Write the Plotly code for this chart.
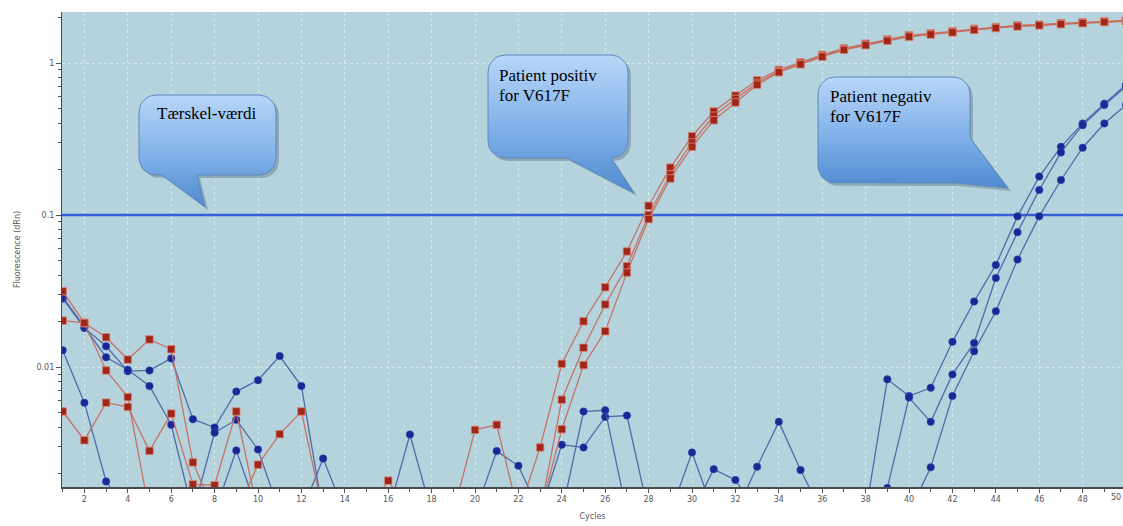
import math
import plotly.graph_objects as go

# ---------------- data ----------------
cycles = list(range(1, 51))

# Patient positive for V617F (red squares), three replicates
pos_rep1 = [0.0315, 0.0195, 0.0157, 0.0112, 0.0152, 0.0131, 0.00236, 0.0011, 0.0011, 0.0011,
            0.0011, 0.0011, 0.0011, 0.0011, 0.0011, 0.0011, 0.0011, 0.0011, 0.0011, 0.00386,
            0.00417, 0.0011, 0.00296, 0.0105, 0.0200, 0.0335, 0.0576, 0.115, 0.205, 0.33,
            0.48, 0.61, 0.77, 0.90, 1.01, 1.13, 1.25, 1.34, 1.43, 1.52,
            1.57, 1.62, 1.68, 1.72, 1.77, 1.79, 1.83, 1.85, 1.88, 1.91]
pos_rep2 = [0.0202, 0.0195, 0.0095, 0.00635, 0.0011, 0.0011, 0.0011, 0.0011, 0.0011, 0.00228,
            0.00362, 0.0051, 0.0011, 0.0011, 0.0011, 0.00179, 0.0011, 0.0011, 0.0011, 0.0011,
            0.0011, 0.0011, 0.0011, 0.0061, 0.0134, 0.0258, 0.046, 0.100, 0.185, 0.30,
            0.45, 0.58, 0.74, 0.88, 0.99, 1.11, 1.23, 1.32, 1.41, 1.49,
            1.55, 1.60, 1.66, 1.70, 1.75, 1.77, 1.81, 1.83, 1.86, 1.89]
pos_rep3 = [0.0051, 0.0033, 0.00583, 0.00547, 0.00281, 0.00494, 0.00169, 0.00167, 0.0051, 0.0011,
            0.0011, 0.0011, 0.0011, 0.0011, 0.0011, 0.0011, 0.0011, 0.0011, 0.0011, 0.0011,
            0.0011, 0.0011, 0.0011, 0.0039, 0.0103, 0.0172, 0.0418, 0.094, 0.174, 0.281,
            0.42, 0.55, 0.72, 0.87, 0.98, 1.10, 1.22, 1.31, 1.40, 1.49,
            1.54, 1.59, 1.65, 1.70, 1.74, 1.77, 1.80, 1.83, 1.86, 1.88]

# Patient negative for V617F (blue circles), three replicates
neg_rep1 = [0.0282, 0.0181, 0.0137, 0.0094, 0.0095, 0.0114, 0.00454, 0.0040, 0.0069, 0.0082,
            0.0118, 0.0075, 0.0011, 0.0011, 0.0011, 0.0011, 0.0036, 0.0011, 0.0011, 0.0011,
            0.0028, 0.00224, 0.0011, 0.00308, 0.00296, 0.0047, 0.0048, 0.0011, 0.0011, 0.00274,
            0.0011, 0.0011, 0.00221, 0.00436, 0.0021, 0.0011, 0.0011, 0.0011, 0.0083, 0.00645,
            0.0073, 0.01465, 0.027, 0.047, 0.098, 0.179, 0.281, 0.40, 0.54, 0.72]
neg_rep2 = [0.0129, 0.00583, 0.00177, 0.0011, 0.0011, 0.0011, 0.0011, 0.0011, 0.00283, 0.0011,
            0.0011, 0.0011, 0.0025, 0.0011, 0.0011, 0.0011, 0.0011, 0.0011, 0.0011, 0.0011,
            0.0011, 0.0011, 0.0011, 0.0011, 0.0011, 0.0011, 0.0011, 0.0011, 0.0011, 0.0011,
            0.00213, 0.00181, 0.0011, 0.0011, 0.0011, 0.0011, 0.0011, 0.0011, 0.0016, 0.0063,
            0.00436, 0.00895, 0.0144, 0.0385, 0.077, 0.146, 0.258, 0.39, 0.53, 0.70]
neg_rep3 = [0.029, 0.0185, 0.0116, 0.0096, 0.0075, 0.00417, 0.0011, 0.0037, 0.0045, 0.00287,
            0.0011, 0.0011, 0.0011, 0.0011, 0.0011, 0.0011, 0.0011, 0.0011, 0.0011, 0.0011,
            0.0011, 0.0011, 0.0011, 0.0011, 0.0051, 0.0052, 0.0011, 0.0011, 0.0011, 0.0011,
            0.0011, 0.0011, 0.0011, 0.0011, 0.0011, 0.0011, 0.0011, 0.0011, 0.0011, 0.0011,
            0.00219, 0.00645, 0.0127, 0.0233, 0.051, 0.098, 0.17, 0.277, 0.40, 0.53]

threshold = 0.1

x_tick_vals = list(range(2, 50, 2))
y_tick_vals = [0.01, 0.1, 1]
y_tick_text = ["0.01", "0.1", "1"]

callout_threshold_text = "Tærskel-værdi"
callout_pos_lines = ["Patient positiv", "for V617F"]
callout_neg_lines = ["Patient negativ", "for V617F"]

# ---------------- geometry ----------------
W, H = 1123, 526
ML, MR, MT, MB = 62, 0, 12, 39
PW, PH = W - ML - MR, H - MT - MB
X_RANGE = [0.968, 49.86]
Y_RANGE_LOG = [-2.789, 0.3355]


def px2x(px):
    return X_RANGE[0] + (px - ML) / PW * (X_RANGE[1] - X_RANGE[0])


def py2y(py):
    return 10 ** (Y_RANGE_LOG[1] - (py - MT) / PH * (Y_RANGE_LOG[1] - Y_RANGE_LOG[0]))


def px2paper(px):
    return (px - ML) / PW


def py2paper(py):
    return (MT + PH - py) / PH


def arc(cx, cy, r, t0, t1, n=8):
    return [(cx + r * math.cos(t0 + (t1 - t0) * i / n), cy + r * math.sin(t0 + (t1 - t0) * i / n))
            for i in range(n + 1)]


def callout_bottom(x0, y0, x1, y1, r, base_l, base_r, tip):
    pts = []
    pts += arc(x0 + r, y0 + r, r, math.pi, 1.5 * math.pi)
    pts += arc(x1 - r, y0 + r, r, 1.5 * math.pi, 2 * math.pi)
    pts += arc(x1 - r, y1 - r, r, 0, 0.5 * math.pi)
    pts += [(base_r, y1), tip, (base_l, y1)]
    pts += arc(x0 + r, y1 - r, r, 0.5 * math.pi, math.pi)
    pts.append(pts[0])
    return pts


def callout_corner(x0, y0, x1, y1, r, side_y, tip, base_x):
    pts = []
    pts += arc(x0 + r, y0 + r, r, math.pi, 1.5 * math.pi)
    pts += arc(x1 - r, y0 + r, r, 1.5 * math.pi, 2 * math.pi)
    pts += [(x1, side_y), tip, (base_x, y1)]
    pts += arc(x0 + r, y1 - r, r, 0.5 * math.pi, math.pi)
    pts.append(pts[0])
    return pts


fig = go.Figure()

# threshold line
fig.add_trace(go.Scatter(x=[0, 52], y=[threshold, threshold], mode="lines",
                         line=dict(color="#3560d8", width=2.6), showlegend=False, hoverinfo="skip"))

red_line = dict(color="rgba(200,105,90,0.9)", width=1.3)
blue_line = dict(color="rgba(70,95,165,0.9)", width=1.3)
red_marker = dict(symbol="square", size=7.5, color="#a0261a", line=dict(color="#d98a7a", width=0.8))
blue_marker = dict(symbol="circle", size=7.5, color="#1a2896", line=dict(color="#3a4ab0", width=0.5))

for s in (neg_rep1, neg_rep2, neg_rep3):
    fig.add_trace(go.Scatter(x=cycles, y=s, mode="lines+markers", line=blue_line,
                             marker=blue_marker, showlegend=False))
for s in (pos_rep1, pos_rep2, pos_rep3):
    fig.add_trace(go.Scatter(x=cycles, y=s, mode="lines+markers", line=red_line,
                             marker=red_marker, showlegend=False))

# callouts
callouts = [
    callout_bottom(139, 95, 276, 175, 17, 162, 197, (205, 207)),
    callout_bottom(488, 55, 628, 158, 17, 567, 611, (634, 193)),
    callout_corner(818, 77, 970, 183, 17, 138, (1008, 188), 956),
]
for pts in callouts:
    sx = [px2x(p[0] + 3) for p in pts]
    sy = [py2y(p[1] + 3) for p in pts]
    fig.add_trace(go.Scatter(x=sx, y=sy, mode="lines", fill="toself", line=dict(width=0),
                             fillcolor="rgba(40,60,90,0.28)", showlegend=False, hoverinfo="skip"))
    cx = [px2x(p[0]) for p in pts]
    cy = [py2y(p[1]) for p in pts]
    fig.add_trace(go.Scatter(x=cx, y=cy, mode="lines", fill="toself",
                             line=dict(color="#5d88bd", width=1),
                             fillgradient=dict(type="vertical",
                                               colorscale=[[0, "#4f8ad0"], [0.45, "#7fb0e8"], [1, "#b8d6f8"]]),
                             showlegend=False, hoverinfo="skip"))

ann = []
tfont = dict(family="Liberation Serif, Times New Roman, serif", size=17, color="#000000")
ann.append(dict(x=px2paper(206), y=py2paper(114), xref="paper", yref="paper", text=callout_threshold_text,
                showarrow=False, xanchor="center", yanchor="middle", font=tfont))
for i, t in enumerate(callout_pos_lines):
    ann.append(dict(x=px2paper(497), y=py2paper(75 + 20 * i), xref="paper", yref="paper", text=t,
                    showarrow=False, xanchor="left", yanchor="middle", font=tfont))
for i, t in enumerate(callout_neg_lines):
    ann.append(dict(x=px2paper(828), y=py2paper(96 + 20 * i), xref="paper", yref="paper", text=t,
                    showarrow=False, xanchor="left", yanchor="middle", font=tfont))
# the "50" tick label at the right edge
ann.append(dict(x=px2paper(1116), y=py2paper(497), xref="paper", yref="paper", text="50",
                showarrow=False, xanchor="center", yanchor="middle",
                font=dict(family="DejaVu Sans", size=8, color="#555555")))

minor_y = [k * 10 ** e for e in (-3, -2, -1, 0) for k in range(2, 10)]

fig.update_layout(
    width=W, height=H,
    margin=dict(l=ML, r=MR, t=MT, b=MB),
    paper_bgcolor="white",
    plot_bgcolor="#b4d3dd",
    annotations=ann,
    xaxis=dict(range=X_RANGE, tickvals=x_tick_vals, ticks="outside", ticklen=4, tickcolor="#555",
               showline=True, linecolor="#4a4a4a", linewidth=1.5,
               showgrid=True, gridcolor="rgba(222,236,241,0.85)", griddash="dot", gridwidth=1,
               zeroline=False,
               tickfont=dict(family="DejaVu Sans", size=8, color="#555555"),
               minor=dict(dtick=1, ticks="outside", ticklen=3, tickcolor="#555", showgrid=False),
               title=dict(text="Cycles", standoff=10,
                          font=dict(family="DejaVu Sans", size=8, color="#555555"))),
    yaxis=dict(type="log", range=Y_RANGE_LOG, tickvals=y_tick_vals, ticktext=y_tick_text,
               ticks="outside", ticklen=5, tickcolor="#555",
               showline=True, linecolor="#4a4a4a", linewidth=1.2,
               showgrid=True, gridcolor="rgba(222,236,241,0.85)", griddash="dot", gridwidth=1,
               zeroline=False,
               tickfont=dict(family="DejaVu Sans", size=8, color="#555555"),
               minor=dict(tickvals=minor_y, ticks="outside", ticklen=3, tickcolor="#555", showgrid=False),
               title=dict(text="Fluorescence (dRn)", standoff=14,
                          font=dict(family="DejaVu Sans", size=8, color="#555555"))),
)

fig.write_html("out.html",
               config={"displayModeBar": False},
               post_script="document.body.style.margin='0';document.body.style.padding='0';"
                           "document.body.style.overflow='hidden';")
